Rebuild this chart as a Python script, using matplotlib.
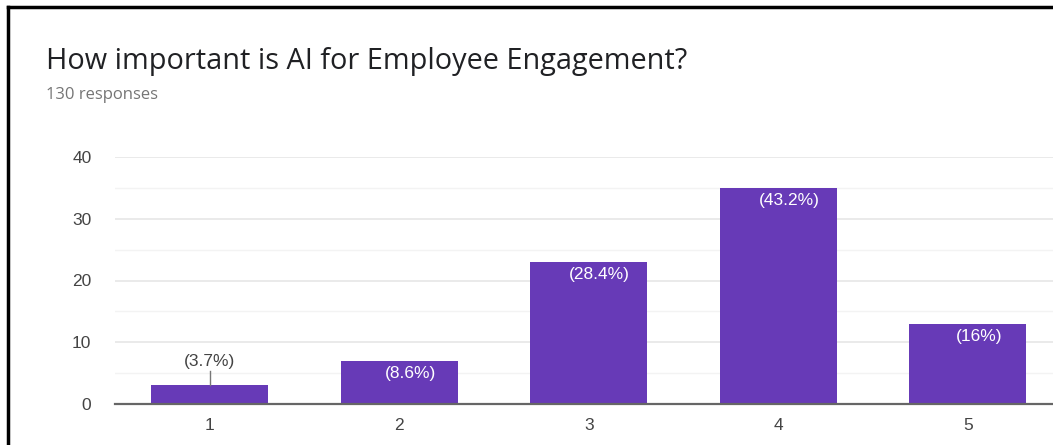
import matplotlib
matplotlib.use("Agg")
import matplotlib.pyplot as plt
from matplotlib.lines import Line2D

# Survey result: rating scale 1-5 and number of answers per rating
ratings = ["1", "2", "3", "4", "5"]
counts = [3, 7, 23, 35, 13]
percent_labels = ["(3.7%)", "(8.6%)", "(28.4%)", "(43.2%)", "(16%)"]
y_ticks = [0, 10, 20, 30, 40]

title = "How important is AI for Employee Engagement?"
subtitle = "130 responses"

BAR = "#673ab7"
TICK = "#444444"

fig = plt.figure(figsize=(10.53, 4.45), dpi=100)
fig.patch.set_facecolor("white")

ax = fig.add_axes([115 / 1053, 41 / 445, 947.5 / 1053, 247 / 445])
ax.set_facecolor("white")
xs = list(range(1, len(ratings) + 1))
ax.bar(xs, counts, width=0.62, color=BAR, zorder=3)

ax.set_xlim(0.5, 5.5)
ax.set_ylim(0, 40)
ax.set_xticks(xs)
ax.set_xticklabels(ratings)
ax.set_yticks(y_ticks)
ax.set_yticks([5, 15, 25, 35], minor=True)
ax.grid(axis="y", which="major", color="#e6e6e6", linewidth=1.2, zorder=0)
ax.grid(axis="y", which="minor", color="#f3f3f3", linewidth=1.0, zorder=0)
ax.tick_params(axis="both", which="both", length=0, labelsize=12.5, labelcolor=TICK,
               labelfontfamily="Liberation Sans")
ax.tick_params(axis="x", pad=10)
ax.tick_params(axis="y", pad=17)
for side in ["top", "right", "left"]:
    ax.spines[side].set_visible(False)
ax.spines["bottom"].set_color("#666666")
ax.spines["bottom"].set_linewidth(1.6)
ax.spines["bottom"].set_zorder(4)

# Value labels: inside the bar for tall bars, above with a leader line for the short one
for i, (x, c, lab) in enumerate(zip(xs, counts, percent_labels)):
    if c < 5:
        ax.plot([x, x], [c, c + 2.4], color="#777777", linewidth=1, zorder=4)
        ax.annotate(lab, (x, c + 2.4), xytext=(0, 9), textcoords="offset pixels",
                    ha="center", va="center", fontsize=12.5, color=TICK,
                    family="Liberation Sans", zorder=5)
    else:
        ax.annotate(lab, (x, c), xytext=(11, -13), textcoords="offset pixels",
                    ha="center", va="center", fontsize=12.5, color="white",
                    family="Liberation Sans", zorder=5)

fig.text(46 / 1053, 1 - 61 / 445, title, fontsize=20.8, color="#202124",
         family="Open Sans", ha="left", va="center")
fig.text(46 / 1053, 1 - 95 / 445, subtitle, fontsize=12, color="#757575",
         family="Open Sans", ha="left", va="center")

# Card frame (top and left edges)
fig.add_artist(Line2D([7.5 / 1053, 1.0], [1 - 7 / 445, 1 - 7 / 445], color="black",
                      linewidth=2.5, transform=fig.transFigure))
fig.add_artist(Line2D([8 / 1053, 8 / 1053], [0, 1 - 7 / 445], color="black",
                      linewidth=2.5, transform=fig.transFigure))

fig.savefig("out.png", dpi=100, facecolor="white")
